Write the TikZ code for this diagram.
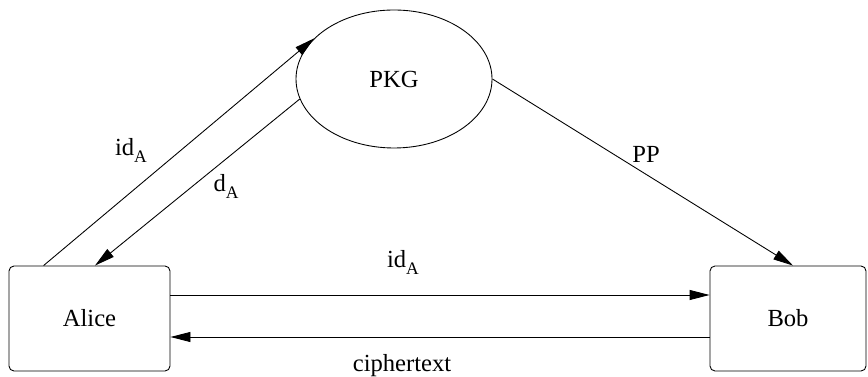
\documentclass[tikz,border=0pt]{standalone}
\usepackage{fontspec}
\setmainfont{Liberation Serif}
\usetikzlibrary{shapes.geometric,arrows.meta}

\newcommand{\lsub}[1]{\raisebox{-3.6pt}{\fontsize{10}{12}\selectfont #1}}

\tikzset{
    party/.style={draw, rounded corners=0.1cm, minimum height=2.1cm, inner sep=0pt},
    msg/.style={-{Triangle[length=0.4cm, width=0.2cm]}, line width=0.5pt},
    lbl/.style={anchor=base, inner sep=0pt}
}

\begin{document}
\begin{tikzpicture}[font=\fontsize{14}{16}\selectfont, line width=0.5pt]
        \useasboundingbox (0,0) rectangle (17.36,7.54);

        % Parties
        \node[party, minimum width=3.22cm] (alice) at (1.79, 1.17) {Alice};
        \node[party, minimum width=3.12cm] (bob) at (15.76, 1.17) {Bob};
        \node[draw, ellipse, minimum width=3.92cm, minimum height=2.76cm, inner sep=0pt] (pkg) at (7.88, 5.96) {PKG};

        % Messages
        \draw[msg] ([xshift=0.7cm]alice.north west) -- (pkg.153);
        \draw[msg] (pkg.192) -- ([xshift=0.11cm]alice.north);
        \draw[msg] (pkg.east) -- ([xshift=0.1cm]bob.north);
        \draw[msg] ([yshift=0.47cm]alice.east) -- ([yshift=0.47cm]bob.west);
        \draw[msg] ([yshift=-0.37cm]bob.west) -- ([yshift=-0.37cm]alice.east);

        % Labels
        \node[lbl] (lid) at (2.62, 4.42) {id\lsub{A}};
        \node[lbl] (ld) at (4.52, 3.70) {d\lsub{A}};
        \node[lbl] (lpp) at (12.92, 4.28) {PP};
        \node[lbl] (lidb) at (8.06, 2.18) {id\lsub{A}};
        \node[lbl] (lct) at (8.04, 0.10) {ciphertext};
    \end{tikzpicture}
\end{document}
